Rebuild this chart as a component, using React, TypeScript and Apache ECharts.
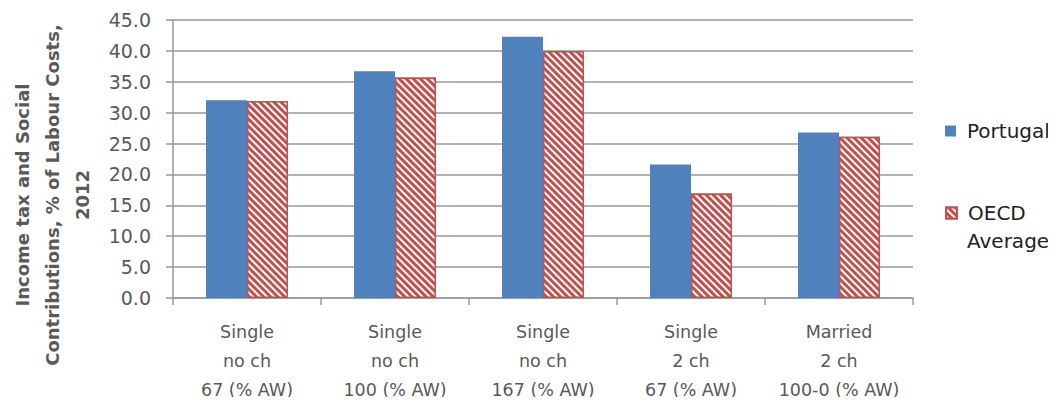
import React, { useEffect, useRef } from "react";
import * as echarts from "echarts";

const categories = [
  "Single\nno ch\n67 (% AW)",
  "Single\nno ch\n100 (% AW)",
  "Single\nno ch\n167 (% AW)",
  "Single\n2 ch\n67 (% AW)",
  "Married\n2 ch\n100-0 (% AW)",
];
const portugal = [32.0, 36.7, 42.3, 21.6, 26.8];
const oecd = [31.9, 35.7, 40.0, 16.9, 26.1];
const yTitle = "Income tax and Social\nContributions, % of Labour Costs,\n2012";

const FONT = "'DejaVu Sans', sans-serif";
const TEXT = "#595959";
const GRID = "#999999";

export default function App() {
  const ref = useRef<HTMLDivElement>(null);
  useEffect(() => {
    const chart = echarts.init(ref.current!, null, { renderer: "svg" });
    const legendText = { fontFamily: FONT, fontSize: 20, color: "#222", padding: [0, 0, 0, 6] };
    chart.setOption({
      animation: false,
      grid: { left: 173, right: 143, top: 20, bottom: 107, containLabel: false },
      legend: [
        {
          left: 945,
          top: 121,
          padding: 0,
          itemWidth: 11,
          itemHeight: 11,
          itemGap: 8,
          icon: "rect",
          textStyle: legendText,
          data: ["Portugal"],
        },
        {
          left: 945,
          top: 203,
          padding: 0,
          itemWidth: 11,
          itemHeight: 11,
          itemGap: 8,
          icon: "rect",
          textStyle: legendText,
          formatter: () => "OECD",
          data: ["OECD Average"],
        },
      ],
      xAxis: {
        type: "category",
        data: categories,
        axisLine: { lineStyle: { color: GRID, width: 1.5 } },
        axisTick: { show: true, length: 7, lineStyle: { color: GRID, width: 1.5 } },
        axisLabel: {
          fontFamily: FONT,
          fontSize: 17.5,
          color: TEXT,
          lineHeight: 29,
          margin: 19,
          interval: 0,
        },
      },
      yAxis: {
        type: "value",
        min: 0,
        max: 45,
        interval: 5,
        axisLine: { show: true, lineStyle: { color: GRID, width: 1.5 } },
        axisTick: { show: true, length: 7, lineStyle: { color: GRID, width: 1.5 } },
        splitLine: { lineStyle: { color: GRID, width: 1.5 } },
        axisLabel: {
          fontFamily: FONT,
          fontSize: 19,
          color: TEXT,
          margin: 22,
          formatter: (v: number) => v.toFixed(1),
        },
      },
      series: [
        {
          name: "Portugal",
          type: "bar",
          data: portugal,
          barWidth: 41,
          barGap: "0%",
          itemStyle: { color: "#4F81BD" },
        },
        {
          name: "OECD Average",
          type: "bar",
          data: oecd,
          barWidth: 41,
          barGap: "0%",
          itemStyle: {
            color: "#C0504D",
            borderColor: "#C0504D",
            borderWidth: 1.5,
            decal: {
              symbol: "rect",
              symbolSize: 1,
              color: "#ffffff",
              dashArrayX: [1, 0],
              dashArrayY: [2, 3],
              rotation: Math.PI / 4,
            },
          },
        },
      ],
      graphic: [
        {
          type: "text",
          x: 52,
          y: 195,
          rotation: Math.PI / 2,
          style: {
            text: yTitle,
            fontFamily: FONT,
            fontWeight: "bold",
            fontSize: 18,
            lineHeight: 30,
            fill: TEXT,
            align: "center",
            verticalAlign: "middle",
          },
        },
        {
          type: "text",
          left: 967,
          top: 231,
          style: { text: "Average", fontFamily: FONT, fontSize: 20, fill: "#222" },
        },
      ],
    });
    return () => chart.dispose();
  }, []);
  return <div ref={ref} style={{ width: 1056, height: 405, margin: -8 }} />;
}
